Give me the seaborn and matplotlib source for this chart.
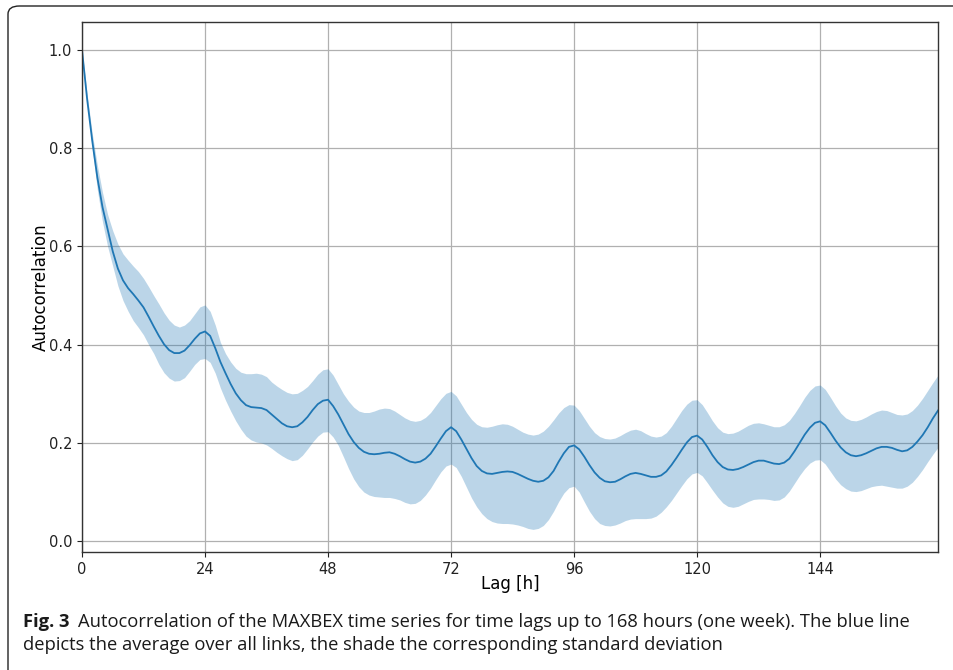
import matplotlib
matplotlib.use("Agg")
import matplotlib.pyplot as plt
import seaborn as sns
import pandas as pd
from matplotlib.patches import FancyBboxPatch

lag = list(range(168))

mean_acf = [
    1.000, 0.900, 0.815, 0.740, 0.680, 0.635, 0.590, 0.555, 0.531, 0.515,
    0.503, 0.490, 0.476, 0.457, 0.437, 0.418, 0.401, 0.389, 0.383, 0.383,
    0.388, 0.399, 0.412, 0.423, 0.427, 0.418, 0.393, 0.365, 0.342, 0.320,
    0.301, 0.287, 0.277, 0.273, 0.272, 0.271, 0.267, 0.258, 0.249, 0.240,
    0.234, 0.232, 0.234, 0.242, 0.253, 0.267, 0.279, 0.286, 0.288, 0.275,
    0.258, 0.238, 0.218, 0.202, 0.190, 0.182, 0.178, 0.177, 0.178, 0.180,
    0.181, 0.178, 0.173, 0.167, 0.162, 0.160, 0.162, 0.168, 0.178, 0.193,
    0.209, 0.224, 0.232, 0.224, 0.207, 0.188, 0.169, 0.153, 0.143, 0.138,
    0.137, 0.139, 0.141, 0.142, 0.141, 0.137, 0.132, 0.127, 0.123, 0.121,
    0.123, 0.130, 0.143, 0.162, 0.179, 0.192, 0.195, 0.187, 0.172, 0.155,
    0.140, 0.129, 0.122, 0.120, 0.121, 0.126, 0.132, 0.137, 0.139, 0.137,
    0.134, 0.131, 0.131, 0.134, 0.142, 0.155, 0.170, 0.186, 0.201, 0.212,
    0.215, 0.207, 0.192, 0.175, 0.161, 0.151, 0.146, 0.145, 0.147, 0.151,
    0.156, 0.161, 0.164, 0.164, 0.161, 0.158, 0.157, 0.160, 0.168, 0.183,
    0.200, 0.217, 0.231, 0.241, 0.244, 0.236, 0.221, 0.205, 0.191, 0.181,
    0.175, 0.173, 0.175, 0.179, 0.184, 0.189, 0.192, 0.192, 0.190, 0.186,
    0.183, 0.185, 0.192, 0.203, 0.216, 0.232, 0.250, 0.266]

upper_acf = [
    1.000, 0.910, 0.830, 0.765, 0.710, 0.665, 0.632, 0.605, 0.585, 0.572,
    0.560, 0.549, 0.535, 0.518, 0.500, 0.483, 0.465, 0.450, 0.440, 0.436,
    0.440, 0.449, 0.463, 0.477, 0.481, 0.468, 0.440, 0.405, 0.382, 0.365,
    0.352, 0.344, 0.341, 0.341, 0.342, 0.340, 0.335, 0.324, 0.316, 0.309,
    0.303, 0.300, 0.301, 0.307, 0.315, 0.327, 0.340, 0.349, 0.351, 0.338,
    0.319, 0.300, 0.285, 0.273, 0.265, 0.262, 0.262, 0.265, 0.269, 0.271,
    0.270, 0.265, 0.258, 0.251, 0.246, 0.244, 0.246, 0.252, 0.262, 0.276,
    0.290, 0.301, 0.305, 0.296, 0.279, 0.262, 0.248, 0.238, 0.233, 0.232,
    0.234, 0.237, 0.239, 0.238, 0.234, 0.228, 0.222, 0.218, 0.216, 0.218,
    0.224, 0.234, 0.247, 0.261, 0.272, 0.278, 0.277, 0.266, 0.250, 0.234,
    0.221, 0.213, 0.209, 0.208, 0.210, 0.215, 0.221, 0.226, 0.228, 0.225,
    0.219, 0.214, 0.212, 0.214, 0.221, 0.234, 0.250, 0.266, 0.279, 0.287,
    0.288, 0.278, 0.262, 0.245, 0.231, 0.222, 0.219, 0.220, 0.224, 0.230,
    0.236, 0.240, 0.241, 0.239, 0.236, 0.233, 0.233, 0.237, 0.246, 0.260,
    0.276, 0.293, 0.307, 0.316, 0.318, 0.309, 0.293, 0.276, 0.261, 0.251,
    0.246, 0.245, 0.248, 0.253, 0.259, 0.264, 0.267, 0.266, 0.262, 0.258,
    0.257, 0.259, 0.266, 0.277, 0.291, 0.307, 0.323, 0.338]

lower_acf = [
    1.000, 0.895, 0.800, 0.715, 0.650, 0.600, 0.560, 0.520, 0.490, 0.468,
    0.449, 0.435, 0.420, 0.400, 0.382, 0.360, 0.343, 0.332, 0.326, 0.327,
    0.333, 0.346, 0.360, 0.370, 0.372, 0.364, 0.342, 0.312, 0.287, 0.265,
    0.245, 0.228, 0.214, 0.206, 0.202, 0.200, 0.196, 0.189, 0.181, 0.174,
    0.168, 0.164, 0.166, 0.175, 0.188, 0.202, 0.214, 0.222, 0.223, 0.212,
    0.195, 0.172, 0.148, 0.127, 0.111, 0.100, 0.094, 0.091, 0.090, 0.089,
    0.089, 0.087, 0.084, 0.079, 0.076, 0.077, 0.083, 0.094, 0.108, 0.125,
    0.141, 0.153, 0.157, 0.150, 0.132, 0.110, 0.088, 0.070, 0.056, 0.046,
    0.040, 0.037, 0.036, 0.036, 0.035, 0.033, 0.030, 0.026, 0.024, 0.026,
    0.032, 0.044, 0.061, 0.081, 0.098, 0.109, 0.112, 0.100, 0.080, 0.061,
    0.046, 0.036, 0.032, 0.031, 0.033, 0.037, 0.042, 0.045, 0.046, 0.046,
    0.046, 0.047, 0.051, 0.059, 0.070, 0.083, 0.098, 0.113, 0.127, 0.137,
    0.140, 0.133, 0.119, 0.104, 0.090, 0.078, 0.071, 0.069, 0.071, 0.076,
    0.081, 0.085, 0.086, 0.086, 0.085, 0.083, 0.084, 0.090, 0.102, 0.118,
    0.134, 0.148, 0.159, 0.165, 0.166, 0.157, 0.142, 0.127, 0.115, 0.107,
    0.102, 0.101, 0.103, 0.107, 0.111, 0.113, 0.114, 0.112, 0.110, 0.108,
    0.108, 0.112, 0.120, 0.132, 0.146, 0.162, 0.177, 0.191]

xticks = [0, 24, 48, 72, 96, 120, 144]
yticks = [0.0, 0.2, 0.4, 0.6, 0.8, 1.0]

df = pd.DataFrame({"lag": lag, "mean": mean_acf, "upper": upper_acf, "lower": lower_acf})

fig = plt.figure(figsize=(9.54, 6.70), dpi=100)
ax = fig.add_axes([82 / 954, 1 - 552 / 670, (938 - 82) / 954, (552 - 22) / 670])

blue = "#1f77b4"
ax.fill_between(df["lag"], df["lower"], df["upper"], color=blue, alpha=0.3, linewidth=0)
sns.lineplot(data=df, x="lag", y="mean", ax=ax, color=blue, linewidth=1.3)

ax.set_xlim(0, 167)
ax.set_ylim(-0.022, 1.057)
ax.set_xticks(xticks)
ax.set_yticks(yticks)
ax.set_yticklabels([f"{v:.1f}" for v in yticks])
ax.grid(True, color="#b0b0b0", linewidth=0.9)
ax.set_axisbelow(True)
ax.tick_params(labelsize=10.5, colors="#222222", length=3.5)
for s in ax.spines.values():
    s.set_color("#333333")
    s.set_linewidth(1.0)
ax.set_xlabel("Lag [h]", fontsize=12, labelpad=-1)
ax.set_ylabel("Autocorrelation", fontsize=12, labelpad=-1)

# outer frame
frame = FancyBboxPatch((8 / 954, -0.05), 1.2, (670 - 6) / 670 + 0.05,
                       boxstyle="round,pad=0,rounding_size=0.012",
                       transform=fig.transFigure, fill=False,
                       edgecolor="#222222", linewidth=1.0, clip_on=False)
fig.patches.append(frame)

cap_font = ["Open Sans", "DejaVu Sans"]
t1 = fig.text(23 / 954, 1 - 627 / 670, "Fig. 3", fontsize=13.2, fontweight="bold",
              family=cap_font, va="baseline", ha="left", color="#1a1a1a")
fig.canvas.draw()
bb = t1.get_window_extent(renderer=fig.canvas.get_renderer())
x2 = (bb.x1 + 8) / fig.bbox.width
fig.text(x2, 1 - 627 / 670,
         "Autocorrelation of the MAXBEX time series for time lags up to 168 hours (one week). The blue line",
         fontsize=13.2, family=cap_font, va="baseline", ha="left", color="#1a1a1a")
fig.text(23 / 954, 1 - 650 / 670,
         "depicts the average over all links, the shade the corresponding standard deviation",
         fontsize=13.2, family=cap_font, va="baseline", ha="left", color="#1a1a1a")

fig.savefig("out.png", dpi=100)
